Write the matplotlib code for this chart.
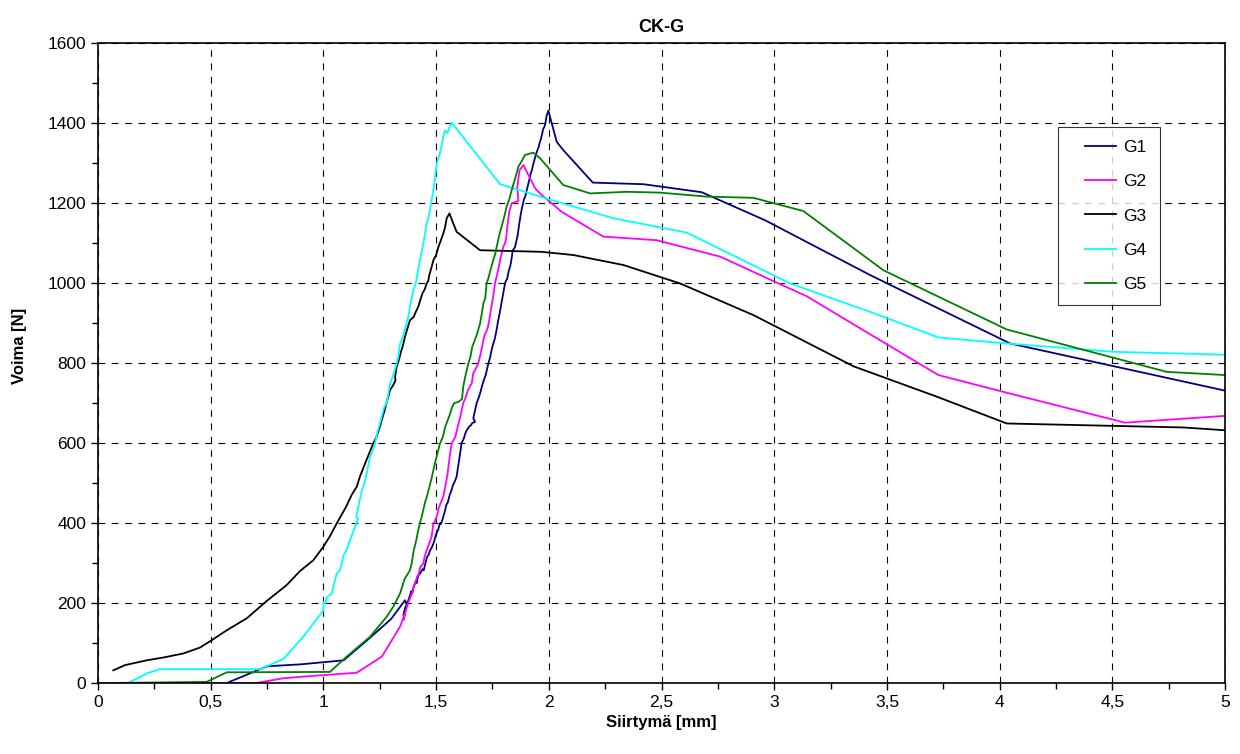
import matplotlib
matplotlib.use("Agg")
import matplotlib.pyplot as plt
from matplotlib.lines import Line2D
from matplotlib.legend_handler import HandlerLine2D
from matplotlib.ticker import MultipleLocator, FuncFormatter

plt.rcParams['font.family'] = ['Liberation Sans', 'DejaVu Sans']

# G1
g1_x = [0, 0.57, 0.75, 0.90, 1.09, 1.20, 1.30, 1.362, 1.37, 1.355, 1.365, 1.36, 1.375,
        1.38, 1.39, 1.395, 1.40, 1.41, 1.414, 1.42, 1.43, 1.44, 1.445, 1.455, 1.46, 1.468,
        1.473, 1.48, 1.49, 1.495, 1.50, 1.51, 1.517, 1.522, 1.532, 1.54, 1.545, 1.552,
        1.56, 1.568, 1.575, 1.582, 1.591, 1.596, 1.60, 1.606, 1.613, 1.62, 1.625, 1.63,
        1.636, 1.645, 1.655, 1.66, 1.673, 1.665, 1.672, 1.68, 1.688, 1.695, 1.70, 1.705,
        1.712, 1.72, 1.726, 1.732, 1.74, 1.745, 1.752, 1.76, 1.768, 1.775, 1.782, 1.79,
        1.798, 1.806, 1.812, 1.815, 1.822, 1.83, 1.835, 1.84, 1.845, 1.85, 1.856, 1.862,
        1.868, 1.875, 1.88, 1.886, 1.89, 1.895, 1.902, 1.91, 1.915, 1.92, 1.925, 1.93,
        1.935, 1.94, 1.948, 1.955, 1.96, 1.965, 1.97, 1.975, 1.98, 1.985, 1.99, 1.998,
        2.035, 2.063, 2.195, 2.42, 2.678, 2.959, 3.425, 4.046, 5.0]
g1_y = [0, 0, 42, 47, 57, 110, 160, 207, 195, 170, 190, 178, 205,
        212, 230, 226, 240, 255, 250, 268, 275, 285, 282, 305, 315, 322,
        332, 338, 352, 362, 372, 385, 400, 398, 416, 432, 445, 452,
        470, 482, 495, 503, 516, 535, 550, 572, 600, 608, 615, 625,
        632, 640, 645, 650, 653, 662, 680, 700, 712, 724, 735, 745,
        758, 770, 785, 799, 815, 830, 845, 860, 882, 905, 925, 950,
        975, 1000, 1008, 1010, 1030, 1045, 1062, 1082, 1085, 1090, 1105, 1120,
        1145, 1170, 1185, 1200, 1210, 1215, 1232, 1250, 1262, 1275, 1282, 1295,
        1305, 1316, 1330, 1340, 1352, 1360, 1372, 1385, 1390, 1400, 1418, 1431,
        1353, 1333, 1251, 1247, 1227, 1157, 1020, 849, 731]

# G2
g2_x = [0, 0.70, 0.82, 0.926, 1.148, 1.259, 1.34, 1.362, 1.355, 1.37, 1.384, 1.392,
        1.40, 1.408, 1.415, 1.422, 1.43, 1.443, 1.45, 1.46, 1.47, 1.48, 1.488, 1.495,
        1.505, 1.512, 1.52, 1.532, 1.54, 1.55, 1.56, 1.569, 1.577, 1.585, 1.592, 1.60,
        1.61, 1.62, 1.63, 1.64, 1.65, 1.658, 1.665, 1.675, 1.687, 1.694, 1.70, 1.708,
        1.715, 1.722, 1.73, 1.738, 1.745, 1.753, 1.761, 1.77, 1.778, 1.785, 1.798, 1.805,
        1.81, 1.818, 1.825, 1.835, 1.865, 1.86, 1.87, 1.887, 1.939, 1.961, 2.057,
        2.242, 2.479, 2.76, 3.011, 3.144, 3.425, 3.728, 4.03, 4.556, 5.0]
g2_y = [0, 0, 12, 17, 26, 66, 141, 175, 157, 190, 212, 222,
        240, 250, 265, 272, 290, 299, 318, 335, 350, 366, 399, 405,
        420, 438, 450, 466, 490, 520, 565, 599, 607, 615, 632, 650,
        672, 700, 712, 730, 742, 749, 775, 785, 799, 815, 830, 852,
        870, 878, 890, 915, 940, 965, 999, 1020, 1040, 1060, 1091, 1098,
        1110, 1150, 1180, 1199, 1205, 1240, 1282, 1295, 1237, 1224, 1178,
        1116, 1107, 1066, 1001, 967, 872, 770, 726, 651, 668]

# G3
g3_x = [0.068, 0.12, 0.216, 0.29, 0.378, 0.453, 0.504, 0.571, 0.66, 0.748, 0.837,
        0.896, 0.955, 1.0, 1.03, 1.059, 1.08, 1.10, 1.125, 1.148, 1.162, 1.18, 1.20,
        1.221, 1.236, 1.25, 1.26, 1.27, 1.28, 1.296, 1.31, 1.32, 1.318, 1.325, 1.335,
        1.345, 1.352, 1.362, 1.372, 1.384, 1.40, 1.41, 1.421, 1.43, 1.44, 1.45, 1.458,
        1.465, 1.47, 1.48, 1.488, 1.50, 1.51, 1.52, 1.532, 1.54, 1.547, 1.559, 1.572,
        1.591, 1.695, 1.968, 2.109, 2.331, 2.582, 2.907, 3.351, 3.721, 4.031, 4.815, 5.0]
g3_y = [32, 45, 57, 64, 74, 89, 107, 132, 162, 205, 245,
        280, 307, 341, 368, 399, 420, 440, 470, 491, 516, 542, 570,
        599, 616, 640, 660, 678, 700, 733, 745, 757, 765, 791, 808,
        830, 842, 866, 885, 907, 915, 928, 941, 958, 975, 985, 999,
        1005, 1020, 1040, 1057, 1070, 1090, 1105, 1124, 1140, 1162, 1174, 1155,
        1128, 1082, 1078, 1070, 1045, 999, 920, 792, 716, 649, 639, 632]

# G4
g4_x = [0, 0.134, 0.216, 0.275, 0.719, 0.822, 0.911, 1.0, 1.0, 1.01, 1.015, 1.037,
        1.059, 1.074, 1.09, 1.105, 1.118, 1.14, 1.155, 1.145, 1.17, 1.18, 1.192, 1.207,
        1.218, 1.229, 1.24, 1.251, 1.27, 1.281, 1.296, 1.31, 1.325, 1.332, 1.34, 1.35,
        1.36, 1.377, 1.385, 1.399, 1.41, 1.418, 1.428, 1.44, 1.45, 1.458, 1.468, 1.475,
        1.488, 1.495, 1.503, 1.515, 1.525, 1.532, 1.539, 1.55, 1.569, 1.784,
        1.991, 2.05, 2.286, 2.612, 3.07, 3.425, 3.728, 4.031, 4.505, 5.0]
g4_y = [0, 0, 24, 35, 35, 60, 116, 182, 203, 200, 215, 224,
        274, 282, 320, 335, 357, 390, 412, 415, 480, 495, 524, 566,
        580, 599, 628, 650, 690, 700, 749, 770, 799, 815, 849, 860,
        880, 916, 945, 982, 1000, 1025, 1057, 1090, 1120, 1149, 1168, 1190,
        1232, 1262, 1299, 1320, 1345, 1366, 1382, 1375, 1401, 1247,
        1211, 1201, 1162, 1126, 999, 928, 864, 849, 828, 821]

# G5
g5_x = [0, 0.482, 0.571, 1.029, 1.103, 1.207, 1.281, 1.31, 1.34, 1.36, 1.384, 1.392,
        1.40, 1.41, 1.42, 1.428, 1.44, 1.45, 1.46, 1.47, 1.48, 1.495, 1.505, 1.517,
        1.53, 1.54, 1.55, 1.56, 1.57, 1.58, 1.599, 1.615, 1.62, 1.63, 1.643, 1.652,
        1.66, 1.67, 1.68, 1.695, 1.703, 1.71, 1.718, 1.724, 1.732, 1.74, 1.755, 1.762,
        1.769, 1.78, 1.795, 1.805, 1.813, 1.825, 1.835, 1.85, 1.865, 1.88, 1.894,
        1.931, 1.961, 2.064, 2.183, 2.346, 2.493, 2.7, 2.907, 3.129, 3.484, 4.031,
        4.741, 5.0]
g5_y = [0, 3, 27, 28, 66, 116, 166, 191, 224, 260, 282, 300,
        330, 352, 380, 399, 425, 450, 468, 490, 512, 550, 572, 599,
        615, 640, 655, 670, 688, 700, 703, 710, 740, 768, 799, 815,
        840, 855, 870, 899, 925, 950, 962, 999, 1012, 1030, 1060, 1072,
        1091, 1120, 1150, 1172, 1191, 1210, 1232, 1260, 1291, 1305, 1320,
        1326, 1312, 1245, 1224, 1228, 1226, 1216, 1213, 1180, 1032, 884,
        778, 770]

series = [("G1", g1_x, g1_y, "#000080"),
          ("G2", g2_x, g2_y, "#FF00FF"),
          ("G3", g3_x, g3_y, "#000000"),
          ("G4", g4_x, g4_y, "#00FFFF"),
          ("G5", g5_x, g5_y, "#008000")]

fig = plt.figure(figsize=(12.4, 7.54), dpi=100)
ax = fig.add_axes([0.079, 0.094, 0.909, 0.849])

for name, xs, ys, col in series:
    ax.plot(xs, ys, color=col, lw=1.3, label=name)

ax.set_xlim(0, 5)
ax.set_ylim(0, 1600)
ax.xaxis.set_major_locator(MultipleLocator(0.5))
ax.xaxis.set_minor_locator(MultipleLocator(0.25))
ax.yaxis.set_major_locator(MultipleLocator(200))
ax.yaxis.set_minor_locator(MultipleLocator(100))
ax.xaxis.set_major_formatter(FuncFormatter(lambda v, p: ('%g' % v).replace('.', ',')))
ax.tick_params(which='both', direction='out', labelsize=12.5, width=1)
ax.tick_params(which='major', length=5)
ax.tick_params(which='minor', length=4)
ax.grid(True, which='major', color='black', linestyle=(0, (6, 6)), linewidth=0.8)
ax.set_axisbelow(True)
for s in ax.spines.values():
    s.set_linewidth(1.2)

ax.set_title("CK-G", fontsize=13, fontweight='bold', pad=8)
ax.set_xlabel("Siirtymä [mm]", fontsize=12, fontweight='bold', labelpad=4)
ax.set_ylabel("Voima [N]", fontsize=12, fontweight='bold')
ax.yaxis.set_label_coords(-0.063, 0.527)

leg = ax.legend(loc='upper left', bbox_to_anchor=(0.852, 0.869), fontsize=12.5,
                frameon=True, fancybox=False, edgecolor='black', handlelength=2.6,
                labelspacing=1.1, borderpad=0.75, borderaxespad=0, handletextpad=0.4,
                handler_map={Line2D: HandlerLine2D(xpad=0.8)})
leg.get_frame().set_linewidth(0.8)

fig.savefig("out.png", dpi=100)
